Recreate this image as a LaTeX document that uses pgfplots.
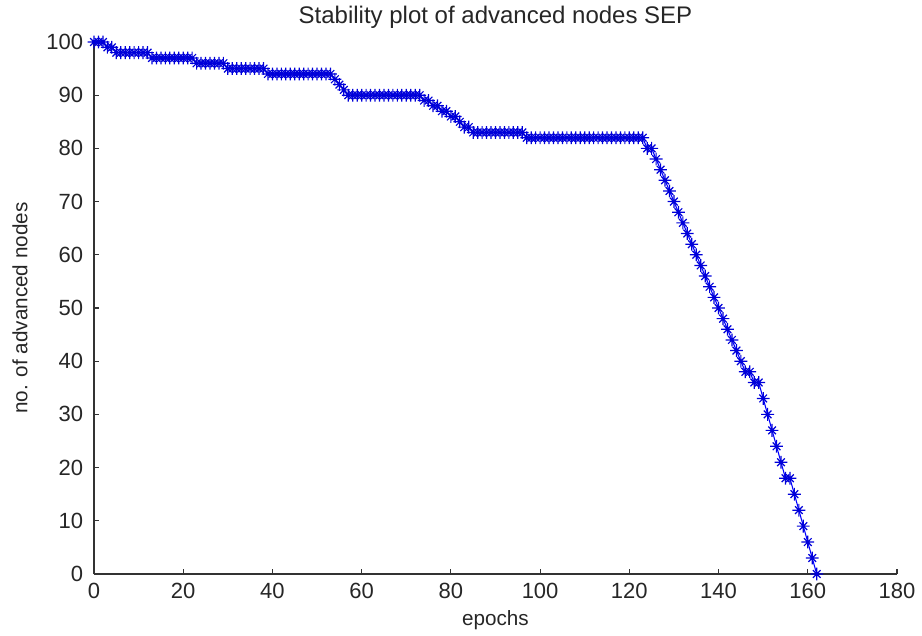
\documentclass[border=0pt]{standalone}
\usepackage{pgfplots}
\pgfplotsset{compat=1.18}
\usepackage{fontspec}
\setmainfont{Liberation Sans}
\pgfdeclareplotmark{mstar}{%
  \pgfpathmoveto{\pgfqpoint{-\pgfplotmarksize}{0pt}}\pgfpathlineto{\pgfqpoint{\pgfplotmarksize}{0pt}}%
  \pgfpathmoveto{\pgfqpoint{0pt}{-\pgfplotmarksize}}\pgfpathlineto{\pgfqpoint{0pt}{\pgfplotmarksize}}%
  \pgfpathmoveto{\pgfqpoint{-.6\pgfplotmarksize}{-.6\pgfplotmarksize}}\pgfpathlineto{\pgfqpoint{.6\pgfplotmarksize}{.6\pgfplotmarksize}}%
  \pgfpathmoveto{\pgfqpoint{-.6\pgfplotmarksize}{.6\pgfplotmarksize}}\pgfpathlineto{\pgfqpoint{.6\pgfplotmarksize}{-.6\pgfplotmarksize}}%
  \pgfusepathqstroke}
\begin{document}
\begin{tikzpicture}
\useasboundingbox (-70.5pt,-46.5pt) rectangle (621pt,430.5pt);
\begin{axis}[
  at={(0,0)}, anchor=south west,
  scale only axis, width=602.25pt, height=399pt,
  xmin=0, xmax=180, ymin=0, ymax=100,
  xtick={0,20,...,180}, ytick={0,10,...,100},
  axis x line*=bottom, axis y line*=left,
  axis line style={black!80, line width=0.9pt},
  tick align=inside, major tick length=4pt,
  tick style={black!80, line width=0.8pt},
  /pgf/number format/assume math mode=true,
  tick label style={font=\fontsize{16.5}{19}\selectfont, text=black!85},
  xticklabel style={anchor=center, yshift=-13pt},
  yticklabel style={anchor=east, inner sep=0pt, xshift=-8pt},
  xlabel={epochs},
  xlabel style={at={(axis description cs:0.5,-0.0865)}, anchor=center, font=\fontsize{15.5}{18}\selectfont, text=black!85},
  ylabel={no. of advanced nodes},
  ylabel style={at={(axis description cs:-0.0922,0.5)}, anchor=center, font=\fontsize{15.5}{18}\selectfont, text=black!85},
  clip=false,
]
\addplot[color=blue, line width=0.8pt, mark=mstar, mark size=4.8pt, mark options={line width=0.9pt, color=blue!85!black}] coordinates {
(0,100)(1,100)(2,100)(3,99)(4,99)
(5,98)(6,98)(7,98)(8,98)(9,98)(10,98)(11,98)(12,98)
(13,97)(14,97)(15,97)(16,97)(17,97)(18,97)(19,97)(20,97)(21,97)(22,97)
(23,96)(24,96)(25,96)(26,96)(27,96)(28,96)(29,96)
(30,95)(31,95)(32,95)(33,95)(34,95)(35,95)(36,95)(37,95)(38,95)
(39,94)(40,94)(41,94)(42,94)(43,94)(44,94)(45,94)(46,94)(47,94)(48,94)(49,94)(50,94)(51,94)(52,94)(53,94)
(54,93)(55,92)(56,91)
(57,90)(58,90)(59,90)(60,90)(61,90)(62,90)(63,90)(64,90)(65,90)(66,90)(67,90)(68,90)(69,90)(70,90)(71,90)(72,90)(73,90)
(74,89)(75,89)(76,88)(77,88)(78,87)(79,87)(80,86)(81,86)(82,85)(83,84)(84,84)
(85,83)(86,83)(87,83)(88,83)(89,83)(90,83)(91,83)(92,83)(93,83)(94,83)(95,83)(96,83)
(97,82)(98,82)(99,82)(100,82)(101,82)(102,82)(103,82)(104,82)(105,82)(106,82)(107,82)(108,82)(109,82)(110,82)
(111,82)(112,82)(113,82)(114,82)(115,82)(116,82)(117,82)(118,82)(119,82)(120,82)(121,82)(122,82)(123,82)
(124,80)(125,80)(126,78)(127,76)(128,74)(129,72)(130,70)(131,68)(132,66)(133,64)(134,62)(135,60)
(136,58)(137,56)(138,54)(139,52)(140,50)(141,48)(142,46)(143,44)(144,42)(145,40)(146,38)(147,38)
(148,36)(149,36)(150,33)(151,30)(152,27)(153,24)(154,21)(155,18)(156,18)(157,15)(158,12)(159,9)
(160,6)(161,3)(162,0)
};
\node[anchor=center, font=\fontsize{18}{21}\selectfont, text=black!85] at (axis description cs:0.5,1.047) {Stability plot of advanced nodes SEP};
\end{axis}
\end{tikzpicture}
\end{document}
